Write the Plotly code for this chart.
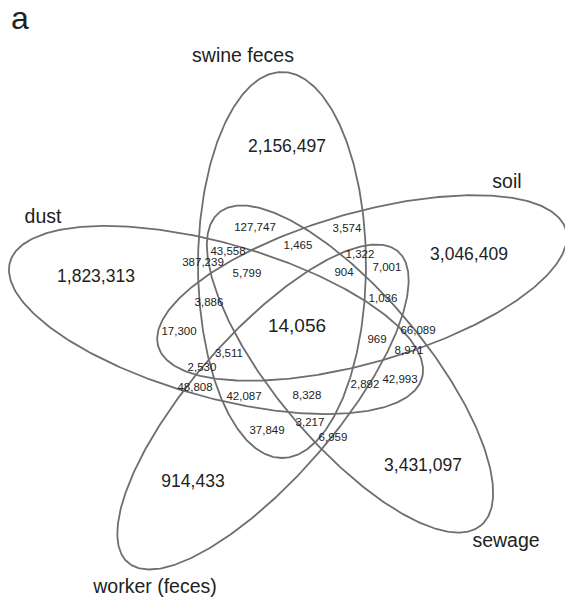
import numpy as np
import plotly.graph_objects as go

# ---------------- data ----------------
set_names = ["swine feces", "soil", "sewage", "worker (feces)", "dust"]
unique_counts = [2156497, 3046409, 3431097, 914433, 1823313]   # only in one set
core_count = 14056                                              # in all five sets
overlap_counts = [127747, 3574, 1465, 43558, 387239, 1322, 5799, 904, 7001,
                  3886, 1036, 17300, 66089, 969, 3511, 8971, 2530, 42993,
                  2892, 48808, 42087, 8328, 3217, 37849, 6959]
panel_letter = "a"

# ---------------- layout (pixel geometry) ----------------
W, H = 565, 602
# ellipse: centre x, centre y, semi-major, semi-minor, tilt (deg, screen coords)
ellipse_geom = [(282, 265, 193, 84, 90.0),
                (362, 288, 212, 75, -16.0),
                (350, 369, 204, 75, 50.0),
                (263, 407, 206, 72, -49.0),
                (216, 320, 214, 77, 15.7)]
set_label_pos = [(243, 57), (507, 183), (506, 542), (155, 588), (43, 218)]
unique_pos = [(287, 148), (469, 256), (423, 467), (193, 483), (96, 278)]
core_pos = (297, 327)
overlap_pos = [(255, 228), (347, 229), (298, 246), (228, 252), (203, 263),
               (360, 255), (247, 274), (344, 273), (387, 268), (209, 303),
               (383, 299), (179, 332), (418, 331), (377, 340), (229, 354),
               (409, 351), (202, 368), (400, 380), (365, 385), (195, 388),
               (244, 397), (307, 396), (310, 423), (267, 431), (333, 438)]

FONT = "Liberation Sans, Arial, sans-serif"
TXT = "#222222"
LINE = "#6e6e6e"

fig = go.Figure()

t = np.linspace(0, 2 * np.pi, 400)
for (cx, cy, a, b, ang) in ellipse_geom:
    p = np.deg2rad(ang)
    x = cx + a * np.cos(t) * np.cos(p) - b * np.sin(t) * np.sin(p)
    y = cy + a * np.cos(t) * np.sin(p) + b * np.sin(t) * np.cos(p)
    fig.add_trace(go.Scatter(x=x, y=y, mode="lines",
                             line=dict(color=LINE, width=1.8),
                             hoverinfo="skip", showlegend=False))

def text_trace(pos, labels, size):
    fig.add_trace(go.Scatter(x=[p[0] for p in pos], y=[p[1] for p in pos],
                             mode="text", text=labels,
                             textposition="middle center",
                             textfont=dict(family=FONT, size=size, color=TXT),
                             hoverinfo="skip", showlegend=False))

text_trace(overlap_pos, [f"{v:,}" for v in overlap_counts], 11.5)
text_trace(unique_pos, [f"{v:,}" for v in unique_counts], 17.5)
text_trace([core_pos], [f"{core_count:,}"], 19)
text_trace(set_label_pos, set_names, 19.5)
text_trace([(20, 21)], [panel_letter], 32)

fig.update_layout(
    width=W, height=H,
    margin=dict(l=0, r=0, t=0, b=0),
    paper_bgcolor="white", plot_bgcolor="white",
    xaxis=dict(range=[0, W], visible=False, fixedrange=True),
    yaxis=dict(range=[H, 0], visible=False, fixedrange=True),
)

fig.write_html("out.html", config={"displayModeBar": False},
               post_script="document.body.style.margin='0';")
